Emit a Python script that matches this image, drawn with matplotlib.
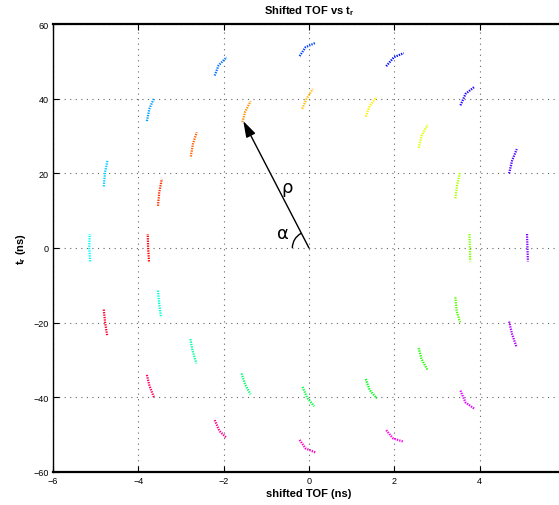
import numpy as np
import matplotlib
matplotlib.use("Agg")
import matplotlib.pyplot as plt
from matplotlib.colors import hsv_to_rgb
from matplotlib.patches import Arc

plt.rcParams["font.family"] = ["Liberation Sans", "DejaVu Sans"]
plt.rcParams["mathtext.fontset"] = "custom"
plt.rcParams["mathtext.rm"] = "Liberation Sans"
plt.rcParams["mathtext.bf"] = "Liberation Sans:bold"
plt.rcParams["mathtext.it"] = "Liberation Sans:italic"

# Inner ring of arcs (hue steps 0..15), each arc: start, middle, end
inner_x = [
    [-3.75, -3.77, -3.78], [-3.54, -3.51, -3.45], [-2.77, -2.72, -2.63], [-1.56, -1.50, -1.37],
    [-0.16, -0.06, 0.09], [1.33, 1.42, 1.58], [2.57, 2.64, 2.78], [3.43, 3.47, 3.54],
    [3.76, 3.77, 3.78], [3.43, 3.46, 3.54], [2.57, 2.64, 2.78], [1.33, 1.42, 1.59],
    [-0.15, -0.05, 0.12], [-1.58, -1.50, -1.37], [-2.78, -2.73, -2.64], [-3.54, -3.51, -3.47],
]
inner_y = [
    [-3.6, 0.0, 3.75], [11.3, 14.9, 18.5], [24.5, 27.9, 31.0], [33.7, 36.4, 39.3],
    [37.3, 39.9, 42.6], [35.2, 38.0, 40.4], [26.8, 30.1, 33.0], [13.3, 16.7, 20.3],
    [3.75, 0.0, -3.6], [-13.2, -16.8, -19.9], [-26.8, -29.8, -32.7], [-35.1, -38.0, -40.3],
    [-37.2, -40.0, -42.4], [-33.6, -36.5, -39.2], [-24.4, -27.5, -30.9], [-11.4, -15.0, -18.4],
]

# Outer ring of arcs (hue steps 16..31)
outer_x = [
    [-5.13, -5.15, -5.14], [-4.81, -4.78, -4.72], [-3.80, -3.74, -3.63], [-2.21, -2.12, -1.93],
    [-0.22, -0.08, 0.14], [1.81, 1.99, 2.22], [3.55, 3.67, 3.87], [4.69, 4.76, 4.87],
    [5.11, 5.12, 5.13], [4.69, 4.76, 4.86], [3.55, 3.67, 3.87], [1.81, 1.97, 2.22],
    [-0.22, -0.08, 0.16], [-2.21, -2.10, -1.93], [-3.80, -3.74, -3.63], [-4.81, -4.78, -4.73],
]
outer_y = [
    [-3.6, 0.0, 3.75], [16.5, 20.3, 23.6], [34.0, 37.3, 40.2], [46.2, 48.9, 51.1],
    [51.4, 53.8, 54.9], [48.7, 51.1, 52.2], [38.2, 41.3, 43.1], [20.0, 23.4, 26.5],
    [3.75, 0.0, -3.6], [-19.7, -23.1, -26.4], [-38.2, -41.4, -43.0], [-48.8, -51.0, -51.9],
    [-51.4, -53.7, -54.8], [-46.1, -49.0, -50.9], [-34.0, -36.9, -40.1], [-16.5, -19.9, -23.5],
]

n_colors = 32
x_ticks = [-6, -4, -2, 0, 2, 4]
y_ticks = [-60, -40, -20, 0, 20, 40, 60]

# rho vector tip
rho_tip = (-1.54, 34.0)

fig = plt.figure(figsize=(5.59, 5.06), dpi=100)
ax = fig.add_axes([53 / 559, 33 / 506, 512 / 559, 448 / 506])

arcs_x = inner_x + outer_x
arcs_y = inner_y + outer_y
for k, (xs, ys) in enumerate(zip(arcs_x, arcs_y)):
    col = hsv_to_rgb([k / n_colors, 1.0, 1.0])
    ax.plot(xs, ys, color=col, lw=1.6, linestyle=(0, (0.6, 0.5)))

ax.set_xlim(-6, 6)
ax.set_ylim(-60, 60)
ax.set_xticks(x_ticks)
ax.set_yticks(y_ticks)
ax.tick_params(direction="in", length=4, width=0.8, top=True, right=True,
               labelsize=6.5, pad=3)
ax.grid(True, color="0.4", linestyle=(0, (1, 4)), linewidth=0.8)
for s in ax.spines.values():
    s.set_linewidth(1.0)
ax.spines["top"].set_linewidth(1.6)
ax.spines["bottom"].set_linewidth(1.6)

# rho arrow and angle alpha
ax.annotate("", xy=rho_tip, xytext=(0, 0),
            arrowprops=dict(arrowstyle="-|>,head_length=0.7,head_width=0.22",
                            color="k", lw=1.0, shrinkA=0, shrinkB=0,
                            mutation_scale=14))
alpha_deg = np.degrees(np.arctan2(rho_tip[1], rho_tip[0]))
ax.add_patch(Arc((0, 0), 2 * 0.39, 2 * 4.45, theta1=alpha_deg, theta2=180,
                 color="k", lw=1.0))
ax.text(-0.52, 16.3, "ρ", fontsize=13, ha="center", va="center",
        family=["DejaVu Sans"])
ax.text(-0.62, 4.0, "α", fontsize=13, ha="center", va="center",
        family=["DejaVu Sans"])

ax.set_xlabel("shifted TOF (ns)", fontsize=8, fontweight="bold", labelpad=2)
ax.set_ylabel(r"t$_\mathbf{r}$ (ns)", fontsize=8, fontweight="bold", labelpad=4)
fig.text(309 / 559, 1 - 14 / 506, r"Shifted TOF vs t$_\mathbf{r}$", fontsize=8,
         fontweight="bold", ha="center", va="baseline")

fig.savefig("out.png", dpi=100)
